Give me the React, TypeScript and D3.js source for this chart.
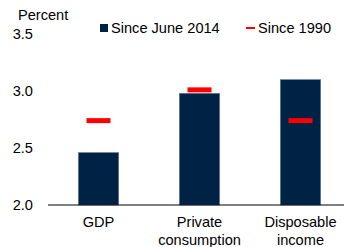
import React from "react";
import * as d3 from "d3";

const categories = ["GDP", "Private\nconsumption", "Disposable\nincome"];
const sinceJune2014 = [2.46, 2.98, 3.1];
const since1990 = [2.74, 3.01, 2.74];
const yTicks = [2.0, 2.5, 3.0, 3.5];

export default function App() {
  const W = 344, H = 247;
  const x = d3.scaleBand<string>().domain(categories).range([48, 351]).paddingInner(0.6).paddingOuter(0.3);
  const y = d3.scaleLinear().domain([2.0, 3.5]).range([205, 34]);
  const bw = x.bandwidth();
  const font = "Liberation Sans, Arial, sans-serif";
  const fs = 14.6;
  return (
    <svg width={W} height={H} style={{ position: "absolute", left: 0, top: 0, background: "#fff" }} fontFamily={font}>
      <text x={18} y={15} dy="0.35em" fontSize={fs} fill="#000">Percent</text>
      {yTicks.map((t) => (
        <text key={t} x={33} y={y(t)} dy="0.35em" textAnchor="end" fontSize={fs} fill="#000">
          {t.toFixed(1)}
        </text>
      ))}
      {categories.map((c, i) => (
        <rect key={c} x={x(c)!} y={y(sinceJune2014[i])} width={bw} height={y(2.0) - y(sinceJune2014[i])}
          fill="#002244" stroke="#6b7f99" strokeWidth={0.6} />
      ))}
      <line x1={48} x2={W} y1={y(2.0)} y2={y(2.0)} stroke="#000" strokeWidth={1} />
      {categories.map((c, i) => (
        <rect key={"m" + c} x={x(c)! + bw / 2 - 12} y={y(since1990[i]) - 2.5} width={24} height={5} fill="#ff0000" />
      ))}
      {categories.map((c) => (
        <text key={"l" + c} x={x(c)! + bw / 2} y={222} textAnchor="middle" fontSize={fs} fill="#000">
          {c.split("\n").map((s, j) => (
            <tspan key={j} x={x(c)! + bw / 2} dy={j === 0 ? "0.35em" : 18}>{s}</tspan>
          ))}
        </text>
      ))}
      <rect x={100} y={24} width={8} height={8} fill="#002244" />
      <text x={111} y={28} dy="0.35em" fontSize={fs} fill="#000">Since June 2014</text>
      <rect x={246} y={27} width={9} height={2} fill="#ff0000" />
      <text x={258} y={28} dy="0.35em" fontSize={fs} fill="#000">Since 1990</text>
    </svg>
  );
}
